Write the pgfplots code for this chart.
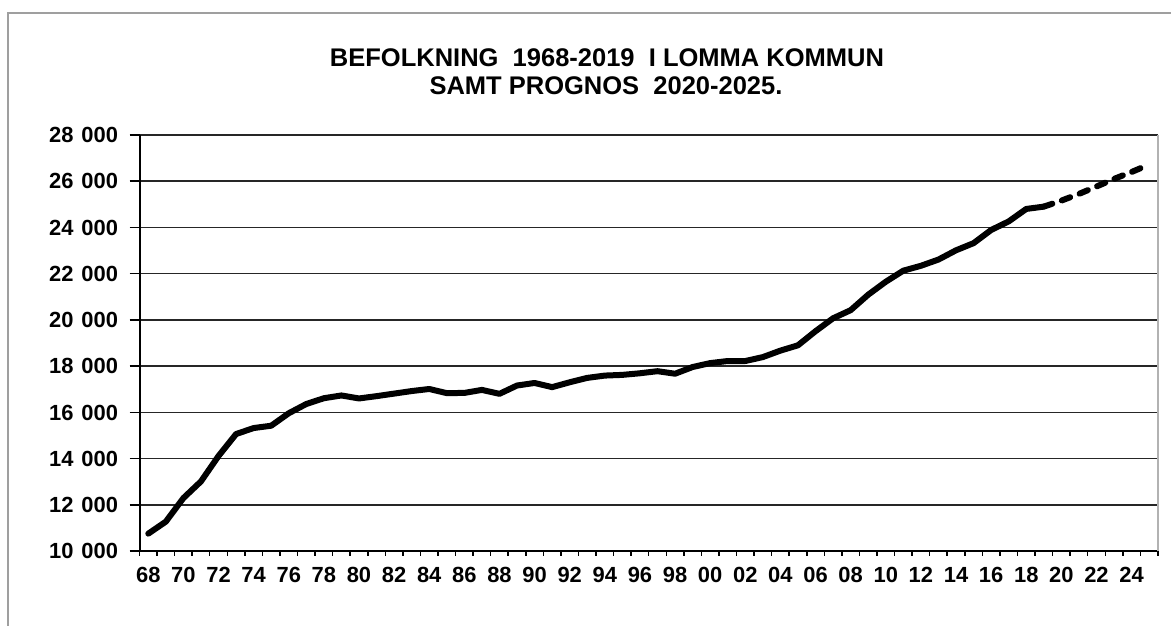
\documentclass[border=0pt]{standalone}
\usepackage{fontspec}
\setmainfont{Liberation Sans}
\usepackage{pgfplots}
\pgfplotsset{compat=1.18}
\newcommand{\ts}{\hspace{0.36em}}
\begin{document}
\begin{tikzpicture}[x=1bp,y=1bp]
\path[use as bounding box] (0,0) rectangle (1171,626);
\draw[gray!75, line width=2.5bp] (8,0) -- (8,613) -- (1171,613);
\node[anchor=base, font=\fontsize{25.6}{30}\selectfont\bfseries] at (607,559) {BEFOLKNING\ \ 1968-2019\ \ I LOMMA KOMMUN};
\node[anchor=base, font=\fontsize{25.6}{30}\selectfont\bfseries] at (606,531) {SAMT PROGNOS\ \ 2020-2025.};
\begin{axis}[
  at={(139.5bp,75bp)}, anchor=south west,
  scale only axis, width=1018.5bp, height=416bp,
  xmin=1967.5, xmax=2025.5, ymin=10000, ymax=28000,
  scaled y ticks=false,
  axis x line*=bottom, axis y line*=left,
  axis line style={black, line width=2bp},
  tick align=outside,
  major tick length=10bp,
  xtick style={/pgfplots/major tick length=5bp},
  tick style={black, line width=1.5bp},
  xtick={1967.5,1968.5,...,2025.5},
  xticklabels={68,,70,,72,,74,,76,,78,,80,,82,,84,,86,,88,,90,,92,,94,,96,,98,,00,,02,,04,,06,,08,,10,,12,,14,,16,,18,,20,,22,,24,,},
  xticklabel style={xshift=8.78bp, yshift=-2bp, text height=15.5bp, text depth=0bp},
  ytick={10000,12000,...,28000},
  yticklabels={10\ts000,12\ts000,14\ts000,16\ts000,18\ts000,20\ts000,22\ts000,24\ts000,26\ts000,28\ts000},
  yticklabel style={xshift=-8bp, text height=15.5bp, text depth=0bp},
  ticklabel style={font=\fontsize{22}{26}\selectfont\bfseries},
  ymajorgrids, grid style={black!85, line width=1.5bp},
  clip=false,
]
\draw[gray!60, line width=2bp] (rel axis cs:1,0) -- (rel axis cs:1,1);
\addplot[black, line width=6bp, line join=round, line cap=round] coordinates {
(1968,10750) (1969,11270) (1970,12290) (1971,13010) (1972,14110) (1973,15060)
(1974,15320) (1975,15420) (1976,15960) (1977,16360) (1978,16610) (1979,16730)
(1980,16600) (1981,16700) (1982,16810) (1983,16920) (1984,17010) (1985,16830)
(1986,16840) (1987,16970) (1988,16800) (1989,17160) (1990,17270) (1991,17090)
(1992,17300) (1993,17490) (1994,17590) (1995,17620) (1996,17690) (1997,17780)
(1998,17670) (1999,17960) (2000,18130) (2001,18220) (2002,18220) (2003,18390)
(2004,18670) (2005,18900) (2006,19510) (2007,20070) (2008,20420) (2009,21090)
(2010,21650) (2011,22130) (2012,22340) (2013,22610) (2014,23010) (2015,23320)
(2016,23890) (2017,24260) (2018,24800) (2019,24900)
};
\addplot[black, line width=6bp, line join=round, line cap=round, dash pattern=on 9bp off 10bp] coordinates {
(2019,24900) (2020,25160) (2021,25450) (2022,25770) (2023,26100) (2024,26400) (2025,26720)
};
\end{axis}
\end{tikzpicture}
\end{document}
